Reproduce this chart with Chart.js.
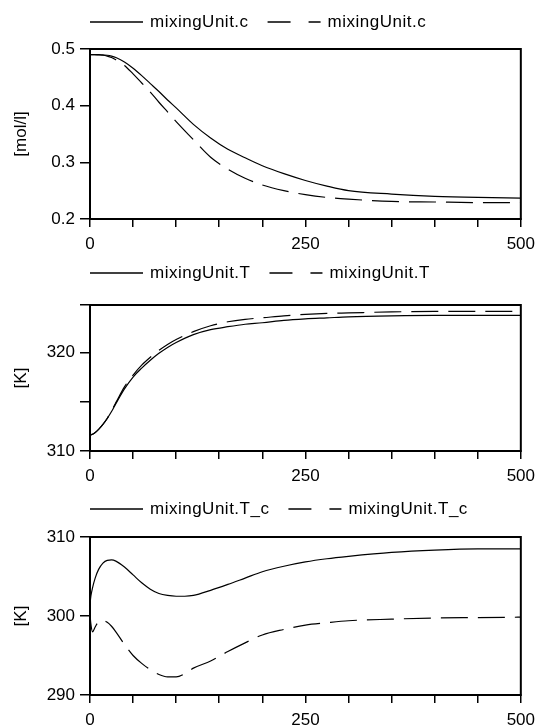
<!DOCTYPE html>
<html>
<head>
<meta charset="utf-8">
<script src="https://cdn.jsdelivr.net/npm/chart.js@4.4.1/dist/chart.umd.min.js"></script>
<style>
  body { margin: 0; background: #fff; width: 542px; height: 728px; position: relative; overflow: hidden; }
  canvas { position: absolute; left: 0; display: block; }
</style>
</head>
<body>
<canvas id="chartConc" width="542" height="255" style="top:0"></canvas>
<canvas id="chartTemp" width="542" height="235" style="top:255px"></canvas>
<canvas id="chartCool" width="542" height="238" style="top:490px"></canvas>
<script>
// x axis, shared by all three plots
const xTicks = [0, 50, 100, 150, 200, 250, 300, 350, 400, 450, 500];
const xLabels = [0, 250, 500];

// mixingUnit.c  [mol/l]
const timeC = [0, 5, 10, 15, 20, 25, 30, 40, 50, 60, 70, 80, 90, 100, 120, 140, 160, 180, 200, 225, 250, 275, 300, 350, 400, 450, 500];
const concSolid = [0.490, 0.490, 0.490, 0.4895, 0.489, 0.4875, 0.485, 0.477, 0.466, 0.453, 0.439, 0.425, 0.410, 0.396, 0.367, 0.343, 0.323, 0.308, 0.294, 0.280, 0.268, 0.258, 0.250, 0.244, 0.240, 0.238, 0.237];
const concDashed = [0.490, 0.490, 0.4895, 0.489, 0.4875, 0.485, 0.481, 0.471, 0.456, 0.440, 0.424, 0.406, 0.389, 0.372, 0.340, 0.309, 0.288, 0.272, 0.260, 0.250, 0.243, 0.238, 0.235, 0.231, 0.230, 0.229, 0.229];
const concTicks = [0.2, 0.3, 0.4, 0.5];
const concLabels = [0.2, 0.3, 0.4, 0.5];

// mixingUnit.T  [K]
const timeT = [0, 5, 10, 15, 20, 25, 30, 40, 50, 60, 70, 80, 90, 100, 120, 140, 160, 180, 200, 225, 250, 275, 300, 350, 400, 450, 500];
const tempSolid = [311.6, 311.8, 312.2, 312.7, 313.3, 314.0, 314.8, 316.3, 317.5, 318.4, 319.2, 319.9, 320.5, 321.0, 321.8, 322.3, 322.6, 322.85, 323.0, 323.25, 323.4, 323.5, 323.6, 323.7, 323.75, 323.75, 323.75];
const tempDashed = [311.6, 311.8, 312.2, 312.7, 313.3, 314.1, 314.9, 316.5, 317.7, 318.7, 319.5, 320.2, 320.8, 321.3, 322.1, 322.7, 323.1, 323.35, 323.5, 323.7, 323.85, 323.95, 324.0, 324.1, 324.15, 324.15, 324.15];
const tempTicks = [310, 315, 320, 324.8];
const tempLabels = [310, 320];

// mixingUnit.T_c  [K]
const timeTc = [0, 1, 3, 6, 10, 15, 20, 25, 30, 40, 50, 60, 70, 80, 90, 100, 110, 120, 140, 160, 180, 200, 225, 250, 275, 300, 350, 400, 450, 500];
const coolSolid = [301.5, 302.5, 303.6, 304.8, 305.9, 306.7, 307.05, 307.1, 306.95, 306.2, 305.2, 304.2, 303.4, 302.85, 302.6, 302.5, 302.5, 302.6, 303.25, 304.0, 304.8, 305.6, 306.3, 306.85, 307.25, 307.55, 308.05, 308.35, 308.5, 308.5];
const coolDashed = [300.2, 299.0, 298.0, 298.6, 299.3, 299.45, 299.2, 298.7, 298.0, 296.4, 295.0, 294.0, 293.2, 292.6, 292.3, 292.3, 292.7, 293.4, 294.3, 295.5, 296.6, 297.6, 298.3, 298.85, 299.15, 299.4, 299.6, 299.75, 299.8, 299.85];
const coolTicks = [290, 300, 310];
const coolLabels = [290, 300, 310];

const FONT = '"Liberation Sans", Arial, sans-serif';
const plotDash = [27, 10];
const legendDash = [23, 18, 12, 100];

// frame around the plot area + the small legend above it
const framePlugin = {
  id: 'frame',
  afterDraw(chart, args, opts) {
    const ctx = chart.ctx;
    const a = chart.chartArea;
    ctx.save();
    ctx.strokeStyle = '#000';
    ctx.lineWidth = 2;
    ctx.strokeRect(a.left, a.top, a.right - a.left, a.bottom - a.top);

    ctx.font = '17px ' + FONT;
    ctx.letterSpacing = '0.5px';
    ctx.textBaseline = 'middle';
    ctx.fillStyle = '#000';
    ctx.lineWidth = 1.3;
    let x = a.left;
    const y = opts.legendY;
    chart.data.datasets.forEach((ds, i) => {
      ctx.setLineDash(i === 0 ? [] : legendDash);
      ctx.beginPath();
      ctx.moveTo(x, y);
      ctx.lineTo(x + 53, y);
      ctx.stroke();
      ctx.setLineDash([]);
      x += 60;
      ctx.fillText(ds.label, x, y);
      x += ctx.measureText(ds.label).width + 19;
    });
    ctx.restore();
  }
};

function makeChart(id, cfg) {
  const toPoints = (xs, ys) => xs.map((t, i) => ({ x: t, y: ys[i] }));
  return new Chart(document.getElementById(id), {
    type: 'line',
    data: {
      datasets: [
        { label: cfg.label, data: toPoints(cfg.time, cfg.solid), borderColor: '#000', borderWidth: 1.2, pointRadius: 0, cubicInterpolationMode: 'monotone' },
        { label: cfg.label, data: toPoints(cfg.time, cfg.dashed), borderColor: '#000', borderWidth: 1.2, borderDash: plotDash, pointRadius: 0, cubicInterpolationMode: 'monotone' }
      ]
    },
    options: {
      responsive: false,
      animation: false,
      events: [],
      layout: { padding: { top: cfg.top, right: cfg.right, left: 0, bottom: 0 } },
      plugins: {
        legend: { display: false },
        tooltip: { enabled: false },
        frame: { legendY: cfg.legendY }
      },
      scales: {
        x: {
          type: 'linear', min: 0, max: 500,
          afterBuildTicks: s => { s.ticks = xTicks.map(v => ({ value: v })); },
          afterFit: s => { s.height = cfg.xHeight; },
          border: { color: '#000', width: 2 },
          grid: { drawOnChartArea: false, color: '#000', tickLength: 8, lineWidth: 1.5 },
          ticks: { color: '#000', font: { family: FONT, size: 17 }, padding: 7, maxRotation: 0, autoSkip: false,
                   callback: v => xLabels.includes(v) ? String(v) : '' }
        },
        y: {
          min: cfg.yTicks[0], max: cfg.yTicks[cfg.yTicks.length - 1],
          afterBuildTicks: s => { s.ticks = cfg.yTicks.map(v => ({ value: v })); },
          afterFit: s => { s.width = 90; },
          border: { color: '#000', width: 2 },
          grid: { drawOnChartArea: false, color: '#000', tickLength: 10, lineWidth: 1.5 },
          ticks: { color: '#000', font: { family: FONT, size: 17 }, padding: 5, autoSkip: false,
                   callback: v => cfg.yLabels.includes(v) ? String(v) : '' },
          title: { display: true, text: cfg.unit, color: '#000', font: { family: FONT, size: 17 }, padding: { top: 11, bottom: 0 } }
        }
      }
    },
    plugins: [framePlugin]
  });
}

makeChart('chartConc', { label: 'mixingUnit.c', unit: '[mol/l]', time: timeC, solid: concSolid, dashed: concDashed,
  yTicks: concTicks, yLabels: concLabels, top: 49, right: 14, xHeight: 36, legendY: 22 });
makeChart('chartTemp', { label: 'mixingUnit.T', unit: '[K]', time: timeT, solid: tempSolid, dashed: tempDashed,
  yTicks: tempTicks, yLabels: tempLabels, top: 50, right: 15, xHeight: 39, legendY: 18 });
makeChart('chartCool', { label: 'mixingUnit.T_c', unit: '[K]', time: timeTc, solid: coolSolid, dashed: coolDashed,
  yTicks: coolTicks, yLabels: coolLabels, top: 47, right: 12, xHeight: 33, legendY: 19 });
</script>
</body>
</html>
